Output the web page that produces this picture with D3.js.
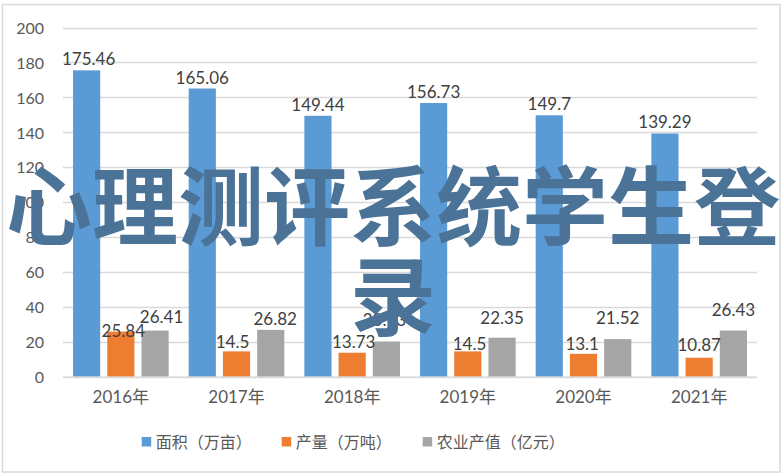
<!DOCTYPE html>
<html>
<head>
<meta charset="utf-8">
<script src="https://cdn.jsdelivr.net/npm/d3@7"></script>
<style>
  html, body { margin: 0; padding: 0; background: #fff; }
  svg { display: block; }
</style>
</head>
<body>
<svg id="chart" width="782" height="476"></svg>
<script>
// ---- data ----
const years = ['2016年', '2017年', '2018年', '2019年', '2020年', '2021年'];
const seriesNames = ['面积（万亩）', '产量（万吨）', '农业产值（亿元）'];
const areaValues = [175.46, 165.06, 149.44, 156.73, 149.7, 139.29];
const outputValues = [25.84, 14.5, 13.73, 14.5, 13.1, 10.87];
const valueValues = [26.41, 26.82, 20.13, 22.35, 21.52, 26.43];
const yTicks = [0, 20, 40, 60, 80, 100, 120, 140, 160, 180, 200];
const overlayTitle = '心理测评系统学生登录';

// ---- styling ----
const colors = ['#5b9bd5', '#ed7d31', '#a5a5a5'];
// small manual label nudges (as in the original layout) [dx, dy]
const labelNudges = [
  [[2, 0], [0, 0], [0, 0], [0, 0], [0, 0], [0, 0]],
  [[2.5, 10], [-4, 1.5], [1.5, 0], [1.7, 4], [-1.3, 1], [0, -2]],
  [[6.5, -3], [4.5, 0], [-2, -11], [0, -9], [0, -10], [0, -10]]
];

const series = [areaValues, outputValues, valueValues];
const svg = d3.select('#chart');
const numFont = 'Lato, "Noto Sans CJK SC", sans-serif';
const textColor = '#595959';

// outer border
svg.append('rect')
  .attr('x', 2.5).attr('y', 4.5).attr('width', 777.5).attr('height', 467.5)
  .attr('fill', '#fff').attr('stroke', '#d9d9d9').attr('stroke-width', 1.5);

const plot = { left: 63, right: 757, top: 27.5, bottom: 376.7 };

const y = d3.scaleLinear().domain([0, 200]).range([plot.bottom, plot.top]);
const x0 = d3.scaleBand().domain(years).range([plot.left, plot.right]).padding(0);
const x1 = d3.scaleBand().domain(d3.range(series.length))
  .range([0, x0.bandwidth()]).paddingInner(0.206).paddingOuter(0.293);

// gridlines
svg.append('g').selectAll('line').data(yTicks).join('line')
  .attr('x1', plot.left).attr('x2', plot.right)
  .attr('y1', d => Math.round(y(d)) + 0.5).attr('y2', d => Math.round(y(d)) + 0.5)
  .attr('stroke', '#d9d9d9').attr('stroke-width', 1.5);

// y axis labels
const yAxis = d3.axisLeft(y).tickValues(yTicks).tickSize(0).tickPadding(0);
const yg = svg.append('g').attr('transform', `translate(${44},0)`).call(yAxis);
yg.select('.domain').remove();
yg.selectAll('text').attr('font-family', numFont).attr('font-size', 16)
  .attr('fill', textColor).attr('dy', '0.36em');

// bars
series.forEach((vals, si) => {
  svg.append('g').selectAll('rect').data(vals).join('rect')
    .attr('x', (d, i) => x0(years[i]) + x1(si))
    .attr('width', x1.bandwidth())
    .attr('y', d => y(d))
    .attr('height', d => y(0) - y(d))
    .attr('fill', colors[si]);
});

// x axis baseline
svg.append('line').attr('x1', plot.left).attr('x2', plot.right)
  .attr('y1', y(0) + 0.5).attr('y2', y(0) + 0.5)
  .attr('stroke', '#d9d9d9').attr('stroke-width', 1.5);

// x axis labels
const xAxis = d3.axisBottom(x0).tickSize(0).tickPadding(0);
const xg = svg.append('g').attr('transform', `translate(0,${403})`).call(xAxis);
xg.select('.domain').remove();
xg.selectAll('text').attr('font-family', numFont).attr('font-size', 17)
  .attr('fill', textColor).attr('dy', 0);

// data labels
series.forEach((vals, si) => {
  svg.append('g').selectAll('text').data(vals).join('text')
    .attr('x', (d, i) => x0(years[i]) + x1(si) + x1.bandwidth() / 2 + labelNudges[si][i][0])
    .attr('y', (d, i) => y(d) - 5 + labelNudges[si][i][1])
    .attr('text-anchor', 'middle')
    .attr('font-family', numFont).attr('font-size', 17)
    .attr('fill', '#404040')
    .text(d => d);
});

// legend
const legendX = [141.7, 281.7, 422.7];
const lg = svg.append('g');
seriesNames.forEach((name, i) => {
  lg.append('rect').attr('x', legendX[i]).attr('y', 437).attr('width', 9.5).attr('height', 9.5)
    .attr('fill', colors[i]);
  lg.append('text').attr('x', legendX[i] + 14).attr('y', 447.5)
    .attr('font-family', '"Noto Sans CJK SC", sans-serif').attr('font-size', 16)
    .attr('fill', textColor).text(name);
});

// overlay title (wrapped over two lines)
const line1 = overlayTitle.slice(0, 9);
const line2 = overlayTitle.slice(9);
const tg = svg.append('g')
  .attr('font-family', '"Noto Sans CJK SC", sans-serif')
  .attr('font-weight', 700).attr('font-size', 86)
  .attr('fill', '#4b7397').attr('text-anchor', 'middle');
tg.append('text').attr('x', 393).attr('y', 239).text(line1);
tg.append('text').attr('x', 393).attr('y', 329).text(line2);
</script>
</body>
</html>
